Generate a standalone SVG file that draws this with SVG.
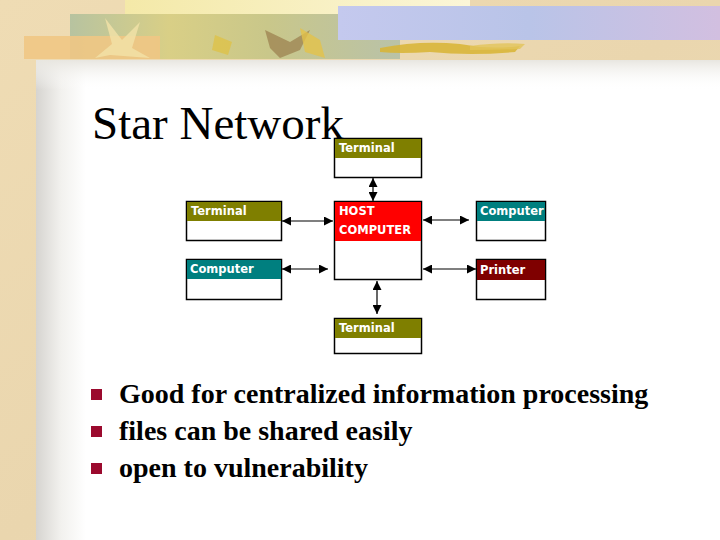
<svg xmlns="http://www.w3.org/2000/svg" width="720" height="540" viewBox="0 0 720 540">
<defs>
  <linearGradient id="beige" x1="0" y1="0" x2="1" y2="1">
    <stop offset="0" stop-color="#efdcb4"/>
    <stop offset="0.5" stop-color="#ead6ae"/>
    <stop offset="1" stop-color="#eedcb8"/>
  </linearGradient>
  <linearGradient id="leftShade" x1="0" y1="0" x2="1" y2="0">
    <stop offset="0" stop-color="#d6d4d0"/>
    <stop offset="0.5" stop-color="#f2f1ee"/>
    <stop offset="1" stop-color="#ffffff"/>
  </linearGradient>
  <linearGradient id="topShade" x1="0" y1="0" x2="0" y2="1">
    <stop offset="0" stop-color="#e8e6e0"/>
    <stop offset="1" stop-color="#ffffff" stop-opacity="0"/>
  </linearGradient>
  <linearGradient id="leafBand" x1="0" y1="0" x2="1" y2="0">
    <stop offset="0" stop-color="#b7c3a0"/>
    <stop offset="0.3" stop-color="#d9cf86"/>
    <stop offset="0.6" stop-color="#c9c78a"/>
    <stop offset="1" stop-color="#b9c2a8"/>
  </linearGradient>
  <linearGradient id="paleYellow" x1="0" y1="0" x2="1" y2="0">
    <stop offset="0" stop-color="#f4e9a8"/>
    <stop offset="1" stop-color="#fbf6d8"/>
  </linearGradient>
  <linearGradient id="flower" x1="0" y1="0" x2="1" y2="0">
    <stop offset="0" stop-color="#c4c9ee"/>
    <stop offset="0.5" stop-color="#b9c4e8"/>
    <stop offset="1" stop-color="#d2bfe0"/>
  </linearGradient>
  <marker id="ah" viewBox="0 0 10 10" refX="10" refY="5" markerWidth="9" markerHeight="9" markerUnits="userSpaceOnUse" orient="auto-start-reverse">
    <path d="M0,0 L10,5 L0,10 z" fill="#000"/>
  </marker>
  <style>
    .box { fill: #ffffff; stroke: #000; stroke-width: 1.5; }
    .hdr { stroke: none; }
    .lbl { font-family: "DejaVu Sans", "Liberation Sans", sans-serif; font-weight: bold; font-size: 11.5px; fill: #ffffff; }
    .conn { stroke: #000; stroke-width: 1.2; fill: none; marker-start: url(#ah); marker-end: url(#ah); }
    .title { font-family: "Liberation Serif", serif; font-size: 47px; fill: #000; }
    .bul { font-family: "Liberation Serif", serif; font-weight: bold; font-size: 28px; fill: #000; }
    .sq { fill: #9b0a2e; }
  </style>
</defs>

<!-- background -->
<rect x="0" y="0" width="720" height="540" fill="url(#beige)"/>
<rect x="36" y="60" width="684" height="480" fill="#ffffff"/>
<rect x="36" y="60" width="50" height="480" fill="url(#leftShade)"/>
<rect x="36" y="60" width="684" height="30" fill="url(#topShade)"/>
<!-- decorative top band -->
<rect x="125" y="0" width="345" height="16" fill="url(#paleYellow)"/>
<rect x="70" y="14" width="330" height="45" fill="url(#leafBand)"/>
<rect x="24" y="36" width="136" height="23" fill="#f0c784" opacity="0.9"/>
<path d="M105,18 L122,40 L140,22 L132,48 L150,58 L110,55 L95,58 L112,44 Z" fill="#f3e2a8" opacity="0.8"/>
<path d="M265,30 L290,42 L310,30 L300,50 L280,58 L270,48 Z" fill="#9a7e4c" opacity="0.7"/>
<path d="M300,28 L320,40 L325,58 L305,52 Z" fill="#e3c24a" opacity="0.8"/>
<path d="M215,35 L232,42 L228,55 L212,50 Z" fill="#e0c040" opacity="0.7"/>
<rect x="338" y="6" width="382" height="34" fill="url(#flower)"/>
<path d="M380,48 Q420,40 460,44 Q490,50 520,46 L515,52 Q470,56 430,52 Q400,54 380,52 Z" fill="#d8b432" opacity="0.85"/>
<path d="M470,46 Q500,42 525,44 L520,49 Q495,50 470,50 Z" fill="#e2c45a" opacity="0.8"/>

<!-- title -->
<text class="title" x="92" y="139">Star Network</text>

<!-- connectors -->
<g id="connectors">
  <line class="conn" x1="373" y1="178" x2="373" y2="201"/>
  <line class="conn" x1="282" y1="221" x2="333" y2="221"/>
  <line class="conn" x1="423" y1="220" x2="469" y2="220"/>
  <line class="conn" x1="282" y1="269" x2="328" y2="269"/>
  <line class="conn" x1="423" y1="269" x2="476" y2="269"/>
  <line class="conn" x1="377" y1="281" x2="377" y2="314"/>
</g>

<!-- nodes -->
<g id="terminal-top">
  <rect class="box" x="334.5" y="138.5" width="87" height="39"/>
  <rect class="hdr" x="335" y="139" width="86" height="19" fill="#7f7f00"/>
  <text class="lbl" x="339" y="152">Terminal</text>
</g>
<g id="terminal-left">
  <rect class="box" x="186.5" y="201.5" width="95" height="39"/>
  <rect class="hdr" x="187" y="202" width="94" height="19" fill="#7f7f00"/>
  <text class="lbl" x="191" y="215">Terminal</text>
</g>
<g id="host">
  <rect class="box" x="334.5" y="201.5" width="87" height="78"/>
  <rect class="hdr" x="335" y="202" width="86" height="39" fill="#ff0000"/>
  <text class="lbl" x="339" y="215">HOST</text>
  <text class="lbl" x="339" y="234">COMPUTER</text>
</g>
<g id="computer-right">
  <rect class="box" x="476.5" y="201.5" width="69" height="39"/>
  <rect class="hdr" x="477" y="202" width="68" height="19" fill="#007f7f"/>
  <text class="lbl" x="480" y="215">Computer</text>
</g>
<g id="computer-left">
  <rect class="box" x="186.5" y="259.5" width="95" height="40"/>
  <rect class="hdr" x="187" y="260" width="94" height="19" fill="#007f7f"/>
  <text class="lbl" x="190" y="273">Computer</text>
</g>
<g id="printer">
  <rect class="box" x="476.5" y="259.5" width="69" height="40"/>
  <rect class="hdr" x="477" y="260" width="68" height="20" fill="#7f0000"/>
  <text class="lbl" x="480" y="274">Printer</text>
</g>
<g id="terminal-bottom">
  <rect class="box" x="334.5" y="318.5" width="87" height="35"/>
  <rect class="hdr" x="335" y="319" width="86" height="19" fill="#7f7f00"/>
  <text class="lbl" x="339" y="332">Terminal</text>
</g>

<!-- bullets -->
<rect class="sq" x="91" y="389" width="11" height="11"/>
<rect class="sq" x="91" y="426" width="11" height="11"/>
<rect class="sq" x="91" y="463" width="11" height="11"/>
<text class="bul" x="119" y="403">Good for centralized information processing</text>
<text class="bul" x="119" y="440">files can be shared easily</text>
<text class="bul" x="119" y="477">open to vulnerability</text>
</svg>
